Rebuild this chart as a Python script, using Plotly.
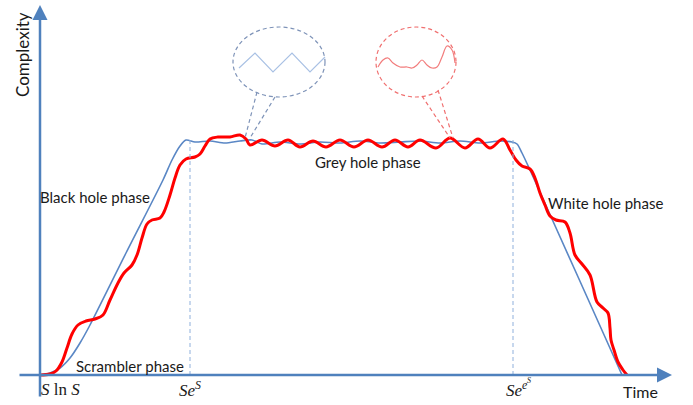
import plotly.graph_objects as go

# ---- data (time units, complexity units; origin at axis crossing) ----
blue_t = [0, 10, 20, 30, 40, 50, 86, 123, 132, 140, 146, 155, 170, 185, 200, 212, 222, 240, 260, 280, 300, 320,
          340, 360, 380, 400, 420, 440, 460, 472, 477, 482, 490, 512, 565, 582]
blue_c = [0, 2, 7, 17, 32, 50, 122, 195, 215, 229, 235, 233, 234, 232, 234, 235, 231, 233, 231, 233, 232, 234,
          232, 233, 234, 232, 234, 232, 234, 233, 231, 222, 205, 156, 38, 0]

red_t = [0, 10, 16, 22, 27, 32, 38, 46, 55, 63, 70, 78, 84, 92, 97, 102, 107, 112, 120, 124, 130, 135, 140, 146,
         155, 160, 165, 170, 178, 190, 200, 206, 210, 222, 235, 248, 260, 273, 286, 300, 314, 328, 342, 355, 368,
         380, 396, 410, 425, 438, 450, 463, 470, 476, 482, 490, 495, 500, 505, 510, 516, 525, 530, 535, 542, 550,
         557, 563, 568, 570, 571, 574, 578, 583, 587]
red_c = [0, 1, 4, 13, 27, 41, 50, 54, 56, 60, 75, 92, 102, 110, 120, 137, 151, 155, 157, 163, 180, 197, 210, 216,
         218, 221, 229, 236, 238, 238, 240, 236, 230, 235, 229, 235, 228, 234, 228, 235, 228, 235, 228, 235, 228,
         235, 227, 237, 227, 236, 227, 236, 225, 215, 209, 206, 197, 182, 170, 159, 155, 153, 142, 120, 111, 100,
         73, 67, 62, 47, 35, 25, 13, 5, 0]

tick_t = [20, 150, 477]
tick_labels = ["<i>S</i> ln <i>S</i>", "<i>Se</i><sup><i>S</i></sup>", "<i>Se</i><sup><i>e</i></sup>"]

phase_labels = ["Scrambler phase", "Black hole phase", "Grey hole phase", "White hole phase"]
phase_t = [90, 55, 328, 565]
phase_c = [9, 178, 213, 172]

# callout decorations
zig_t = [199, 215, 233, 252, 270, 285]
zig_c = [307, 322, 303, 322, 303, 318]
wave_t = [338, 343, 348, 353, 360, 367, 372, 377, 382, 387, 392, 397, 402, 407, 412, 415]
wave_c = [308, 315, 317, 312, 308, 308, 307, 310, 315, 310, 307, 308, 318, 329, 325, 312]

AX = "#4F81BD"
fig = go.Figure()

fig.add_trace(go.Scatter(x=blue_t, y=blue_c, mode="lines",
                         line=dict(color="#5A87C5", width=1.6, shape="spline", smoothing=0.8),
                         hoverinfo="skip"))
fig.add_trace(go.Scatter(x=red_t, y=red_c, mode="lines",
                         line=dict(color="#FF0000", width=3, shape="spline", smoothing=1.0),
                         hoverinfo="skip"))
fig.add_trace(go.Scatter(x=zig_t, y=zig_c, mode="lines",
                         line=dict(color="#A9C1E4", width=1.2), hoverinfo="skip"))
fig.add_trace(go.Scatter(x=wave_t, y=wave_c, mode="lines",
                         line=dict(color="#F27C7C", width=1.2, shape="spline", smoothing=1.0), hoverinfo="skip"))

DASH = "4px,3px"
shapes = []
# dashed verticals
for t, top in [(150, 235), (473, 235)]:
    shapes.append(dict(type="line", x0=t, x1=t, y0=0, y1=top, xref="x", yref="y",
                       line=dict(color="#8FB0DC", width=1, dash=DASH)))
# callout ellipses
shapes.append(dict(type="circle", x0=193, x1=285, y0=278, y1=348, xref="x", yref="y",
                   line=dict(color="#7E93B8", width=1.2, dash=DASH)))
shapes.append(dict(type="circle", x0=336, x1=416, y0=278, y1=348, xref="x", yref="y",
                   line=dict(color="#F07070", width=1.2, dash=DASH)))
for (x0, y0, x1, y1, c) in [(217, 283, 205, 237, "#7E93B8"), (235, 278, 210, 237, "#7E93B8"),
                            (382, 279, 410, 237, "#F07070"), (398, 285, 413, 237, "#F07070")]:
    shapes.append(dict(type="line", x0=x0, y0=y0, x1=x1, y1=y1, xref="x", yref="y",
                       line=dict(color=c, width=1.2, dash=DASH)))

ann = []
# axes with arrows
ann.append(dict(x=632, y=0, ax=-22, ay=0, xref="x", yref="y", axref="x", ayref="y", text="",
                showarrow=True, arrowhead=2, arrowsize=1.2, arrowwidth=2.5, arrowcolor=AX))
ann.append(dict(x=0, y=370, ax=0, ay=-23, xref="x", yref="y", axref="x", ayref="y", text="",
                showarrow=True, arrowhead=2, arrowsize=1.2, arrowwidth=2.5, arrowcolor=AX))

TF = dict(family="Lato", size=15, color="#1a1a1a")
ann.append(dict(x=-18, y=320, text="Complexity", textangle=-90, showarrow=False,
                font=dict(family="Lato", size=17, color="#1a1a1a")))
ann.append(dict(x=600, y=-16, text="Time", showarrow=False,
                font=dict(family="Lato", size=16, color="#1a1a1a")))
for lab, t, c in zip(phase_labels, phase_t, phase_c):
    ann.append(dict(x=t, y=c, text=lab, showarrow=False, font=TF))

MF = dict(family="Liberation Serif", size=17, color="#1a1a1a")
for lab, t in zip(tick_labels, tick_t):
    ann.append(dict(x=t, y=-14, text=lab, showarrow=False, font=MF))
ann.append(dict(x=489, y=-5, text="<i>S</i>", showarrow=False,
                font=dict(family="Liberation Serif", size=8, color="#1a1a1a")))

fig.update_layout(
    width=693, height=405, margin=dict(l=0, r=0, t=0, b=0),
    paper_bgcolor="white", plot_bgcolor="white", showlegend=False,
    xaxis=dict(range=[-40, 653], visible=False, fixedrange=True),
    yaxis=dict(range=[-30, 375], visible=False, fixedrange=True),
    shapes=shapes, annotations=ann,
)
fig.write_html("out.html", config={"displayModeBar": False},
               post_script="document.body.style.margin='0';document.body.style.overflow='hidden';")
